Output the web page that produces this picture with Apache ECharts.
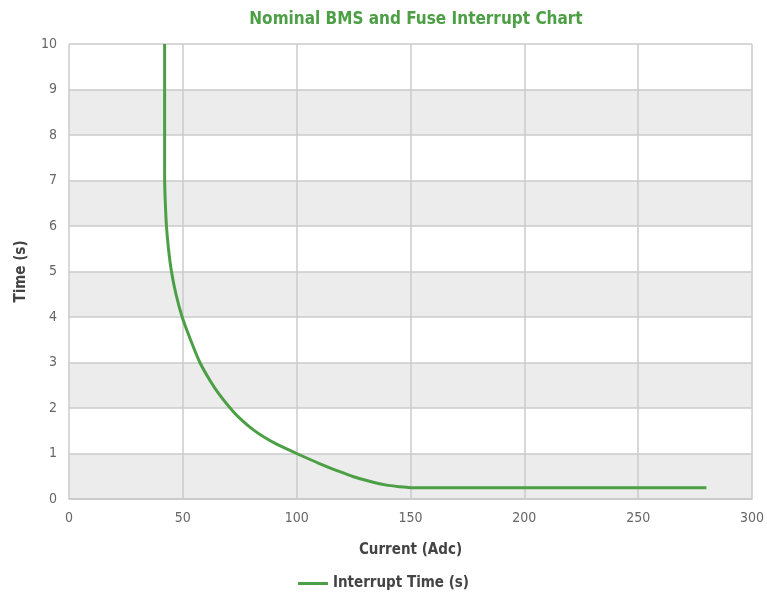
<!DOCTYPE html>
<html>
<head>
<meta charset="utf-8">
<script src="https://cdn.jsdelivr.net/npm/echarts@6/dist/echarts.min.js"></script>
<style>html,body{margin:0;padding:0;background:#fff}#c{width:767px;height:598px}</style>
</head>
<body>
<div id="c"></div>
<script>
const titleText = 'Nominal BMS and Fuse Interrupt Chart';
const xName = 'Current (Adc)';
const yName = 'Time (s)';
const seriesName = 'Interrupt Time (s)';
const currentValues = [42, 42, 42.1, 42.4, 42.8, 43.7, 45, 47, 49.7, 53, 57.5, 62, 66, 72, 76, 81, 86, 91, 100, 110, 118, 125, 132, 139, 145, 150, 200, 250, 280];
const timeValues =    [10, 7.2, 6.8, 6.4, 6.0, 5.5, 5.0, 4.5, 4.0, 3.55, 3.0, 2.6, 2.3, 1.93, 1.73, 1.52, 1.35, 1.21, 1.0, 0.78, 0.62, 0.49, 0.39, 0.31, 0.27, 0.25, 0.25, 0.25, 0.25];
const xMin = 0, xMax = 300, xInterval = 50;
const yMin = 0, yMax = 10, yInterval = 1;

const data = currentValues.map((c, i) => [c, timeValues[i]]);
const green = '#4c9f45';
const condensed = '"Liberation Sans Narrow", "DejaVu Sans Condensed", sans-serif';

const chart = echarts.init(document.getElementById('c'), null, {renderer: 'canvas'});
chart.setOption({
  animation: false,
  title: {
    text: titleText,
    left: 411, textAlign: 'center', top: 6,
    textStyle: {color: green, fontSize: 17, fontWeight: 'bold', fontFamily: condensed}
  },
  grid: {left: 69, right: 14, top: 44, bottom: 99, containLabel: false},
  legend: {
    bottom: 2, left: 'center',
    icon: 'rect', itemWidth: 30, itemHeight: 3, itemGap: 10,
    textStyle: {color: '#444', fontSize: 15, fontWeight: 'bold', fontFamily: condensed},
    data: [seriesName]
  },
  xAxis: {
    type: 'value', min: xMin, max: xMax, interval: xInterval,
    name: xName, nameLocation: 'middle', nameGap: 44,
    nameTextStyle: {color: '#444', fontSize: 15, fontWeight: 'bold', fontFamily: condensed},
    axisLine: {show: true, lineStyle: {color: '#c8c8c8', width: 1.5}},
    axisTick: {show: false},
    axisLabel: {color: '#666', fontSize: 14, margin: 12, fontFamily: condensed},
    splitLine: {show: true, lineStyle: {color: '#cbcbcb', width: 1.5}}
  },
  yAxis: {
    type: 'value', min: yMin, max: yMax, interval: yInterval,
    name: yName, nameLocation: 'middle', nameGap: 40,
    nameTextStyle: {color: '#444', fontSize: 15, fontWeight: 'bold', fontFamily: condensed},
    axisLine: {show: false},
    axisTick: {show: false},
    axisLabel: {color: '#666', fontSize: 14, margin: 12, fontFamily: condensed},
    splitLine: {show: true, lineStyle: {color: '#cbcbcb', width: 1.5}},
    splitArea: {show: true, areaStyle: {color: ['#ebeceb', '#ffffff']}}
  },
  series: [{
    name: seriesName,
    type: 'line',
    data: data,
    smooth: 0.3,
    showSymbol: false,
    lineStyle: {color: green, width: 3},
    itemStyle: {color: green}
  }]
});
</script>
</body>
</html>
